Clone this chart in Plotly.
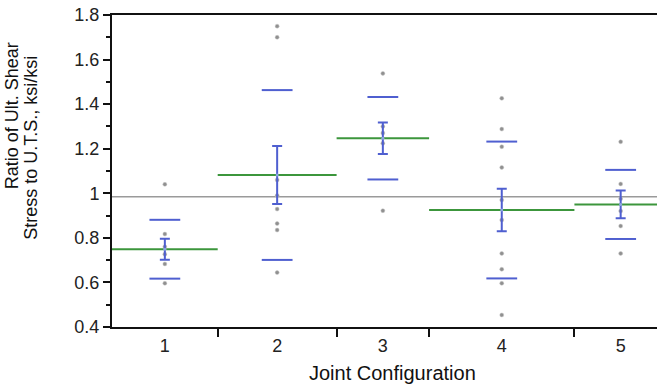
import plotly.graph_objects as go

# Joint configuration groups and their summary statistics
groups = ["1", "2", "3", "4", "5"]
counts = [8, 9, 7, 11, 7]
means = [0.749, 1.082, 1.247, 0.925, 0.950]
std_devs = [0.132, 0.381, 0.185, 0.307, 0.155]
std_errs = [0.047, 0.130, 0.071, 0.095, 0.062]
grand_mean = 0.985

# Individual observations per group
obs = {
    "1": [1.04, 0.817, 0.76, 0.727, 0.683, 0.596],
    "2": [1.75, 1.70, 1.06, 0.99, 0.929, 0.864, 0.835, 0.644],
    "3": [1.538, 1.30, 1.27, 1.224, 0.922],
    "4": [1.426, 1.288, 1.209, 1.116, 0.97, 0.88, 0.73, 0.659, 0.596, 0.454],
    "5": [1.231, 1.042, 0.975, 0.92, 0.853, 0.73],
}

# Group widths proportional to sample size
edges = [0]
for n in counts:
    edges.append(edges[-1] + n)
centers = [(edges[i] + edges[i + 1]) / 2 for i in range(len(counts))]

BLUE = "#4f5fd0"
GREEN = "#3c963c"
FONT = "Liberation Sans, Arial, sans-serif"

fig = go.Figure()

# Grand mean across all groups
fig.add_trace(go.Scatter(
    x=[edges[0], edges[-1]], y=[grand_mean, grand_mean], mode="lines",
    line=dict(color="#9a9a9a", width=1.5), hoverinfo="skip", showlegend=False))

# Group means spanning each group's width
gx, gy = [], []
for i, m in enumerate(means):
    gx += [edges[i], edges[i + 1], None]
    gy += [m, m, None]
fig.add_trace(go.Scatter(x=gx, y=gy, mode="lines",
                         line=dict(color=GREEN, width=2), showlegend=False))

# Observations
px, py = [], []
for i, g in enumerate(groups):
    for v in obs[g]:
        px.append(centers[i])
        py.append(v)
fig.add_trace(go.Scatter(
    x=px, y=py, mode="markers",
    marker=dict(size=4, color="#909090", line=dict(color="#c8c8c8", width=0.5)),
    showlegend=False))

# Mean error bars (± 1 standard error)
fig.add_trace(go.Scatter(
    x=centers, y=means, mode="markers",
    marker=dict(size=3, color="#8fa6e0"),
    error_y=dict(type="data", array=std_errs, color=BLUE, thickness=2, width=5),
    showlegend=False))

# Standard deviation lines (mean ± 1 SD)
sx, sy = [], []
for c, m, s in zip(centers, means, std_devs):
    sx += [c, c]
    sy += [m + s, m - s]
fig.add_trace(go.Scatter(
    x=sx, y=sy, mode="markers",
    marker=dict(symbol="line-ew", size=22, line=dict(color=BLUE, width=2)),
    showlegend=False))

# Group labels live on an overlaid axis, centred under each group
fig.add_trace(go.Scatter(x=[centers[0]], y=[None], xaxis="x2", showlegend=False,
                         hoverinfo="skip", mode="markers"))

fig.update_layout(
    # Bottom axis: tick marks at group boundaries
    xaxis=dict(
        range=[0, edges[-1] - 0.75],
        tickvals=edges[1:-1], ticktext=[""] * (len(edges) - 2),
        ticks="outside", ticklen=8, tickwidth=2, tickcolor="#111",
        showline=True, linecolor="#111", linewidth=2, mirror=True,
        showgrid=False, zeroline=False,
    ),
    xaxis2=dict(
        overlaying="x", side="bottom", matches="x",
        tickvals=centers, ticktext=groups,
        ticks="outside", ticklen=2, tickcolor="rgba(0,0,0,0)",
        tickfont=dict(family=FONT, size=18, color="#222"),
        showline=False, showgrid=False, zeroline=False,
    ),
    yaxis=dict(
        range=[0.4, 1.8], dtick=0.2, tick0=0.4,
        ticks="outside", ticklen=7, tickwidth=2, tickcolor="#111",
        minor=dict(dtick=0.1, ticks="outside", ticklen=4, tickwidth=2, tickcolor="#111"),
        tickfont=dict(family=FONT, size=18, color="#222"),
        showline=True, linecolor="#111", linewidth=2,
        showgrid=False, zeroline=False,
    ),
    width=657, height=388,
    margin=dict(l=112, r=0, t=15, b=61),
    plot_bgcolor="white", paper_bgcolor="white",
    annotations=[
        dict(text="Joint Configuration", xref="paper", yref="paper",
             x=0.515, y=-0.146, xanchor="center", yanchor="middle", showarrow=False,
             font=dict(family=FONT, size=20, color="#111")),
        dict(text="Ratio of Ult. Shear", xref="paper", yref="paper",
             x=-0.182, y=0.678, xanchor="center", yanchor="middle", textangle=-90,
             showarrow=False, font=dict(family=FONT, size=18, color="#111")),
        dict(text="Stress to U.T.S., ksi/ksi", xref="paper", yref="paper",
             x=-0.149, y=0.574, xanchor="center", yanchor="middle", textangle=-90,
             showarrow=False, font=dict(family=FONT, size=18, color="#111")),
    ],
)

fig.write_html("out.html")
